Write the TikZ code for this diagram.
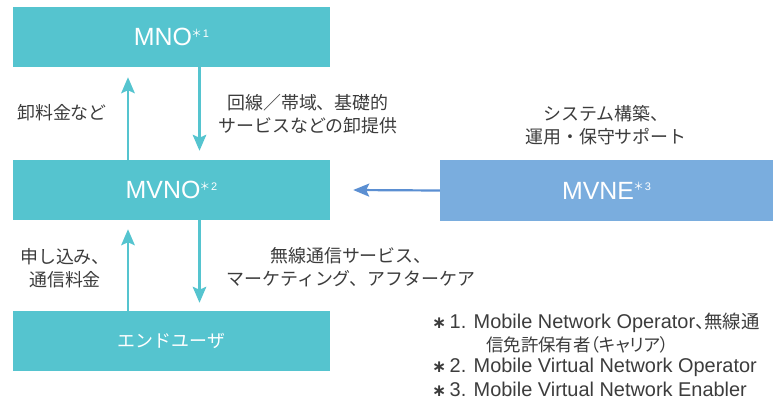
\documentclass[tikz,border=0pt]{standalone}
\usepackage{fontspec}
\setmainfont{Liberation Sans}
\newfontfamily\jp[RawFeature=+palt]{Noto Sans CJK JP}
\newfontfamily\jpl{Noto Sans CJK JP}
\newfontfamily\dvs{DejaVu Sans}
\usetikzlibrary{arrows.meta}
\definecolor{tealbox}{HTML}{55C4CF}
\definecolor{mvneblue}{HTML}{7AADDE}
\definecolor{arrblue}{HTML}{5B8FD2}
\definecolor{txtgray}{HTML}{3C3C3C}
\newcommand\supmark[1]{\raisebox{8.5bp}{\fontsize{11}{11}\selectfont{\jp ＊}\,#1}}
\newcommand\fnj[1]{{\jp\fontsize{17.5}{22}\selectfont #1}}
\newcommand\fnjb[1]{{\jp\fontsize{18.5}{22}\selectfont #1}}
\newcommand\fnast{{\dvs\bfseries\fontsize{17}{22}\selectfont ∗}}
\begin{document}
\begin{tikzpicture}[x=1bp,y=-1bp,
  box/.style={fill=tealbox, minimum width=317bp, minimum height=60bp, inner sep=0pt, text=white, font=\fontsize{25}{25}\selectfont},
  lbl/.style={text=txtgray, align=center, inner sep=0pt, font=\jpl\fontsize{18}{23.5}\selectfont},
  fn/.style={text=txtgray, anchor=west, inner sep=0pt, font=\fontsize{20}{22}\selectfont},
  tarrow/.style={draw=tealbox, line width=2.6bp, -{Stealth[length=16bp, width=13.5bp, inset=3bp]}},
  barrow/.style={draw=arrblue, line width=2.2bp, -{Stealth[length=16bp, width=13bp, inset=3bp]}}
]
\useasboundingbox (0,0) rectangle (783,401);
\node[box] (mno) at (171.5,37) {MNO\supmark{1}};
\node[box] (mvno) at (171.5,190) {MVNO\supmark{2}};
\node[box, font=\jpl\fontsize{18}{18}\selectfont] (eu) at (171.5,341) {エンドユーザ};
\node[box, fill=mvneblue, minimum width=333bp, minimum height=61bp] (mvne) at (606.5,190.5) {MVNE\supmark{3}};

\coordinate (ux) at (128,0);
\coordinate (dx) at (199.5,0);

\draw[tarrow] (ux |- mvno.north) -- ([yshift=-10bp]ux |- mno.south);
\draw[tarrow] (dx |- mno.south) -- ([yshift=9bp]dx |- mvno.north);
\draw[tarrow] (ux |- eu.north) -- ([yshift=-9bp]ux |- mvno.south);
\draw[tarrow] (dx |- mvno.south) -- ([yshift=8bp]dx |- eu.north);
\draw[barrow] (mvne.west) -- ([xshift=23bp]mvno.east);

\node[lbl] (l1) at (62,113) {卸料金など};
\node[lbl] (l2) at (308,114) {回線／帯域、基礎的\\サービスなどの卸提供};
\node[lbl] (l3) at (606,125) {システム構築、\\運用・保守サポート};
\node[lbl] (l4) at (65,268) {申し込み、\\通信料金};
\node[lbl] (l5) at (351,267) {無線通信サービス、\\マーケティング、アフターケア};

\node[fn] (f1) at (432,323) {\fnast\,1. Mobile Network Operator\fnjb{、無線通}};
\node[fn] (f1b) at (486,345) {\fnj{信免許保有者（キャリア）}};
\node[fn] (f2) at (432,367) {\fnast\,2. Mobile Virtual Network Operator};
\node[fn] (f3) at (432,389) {\fnast\,3. Mobile Virtual Network Enabler};
\end{tikzpicture}
\end{document}
